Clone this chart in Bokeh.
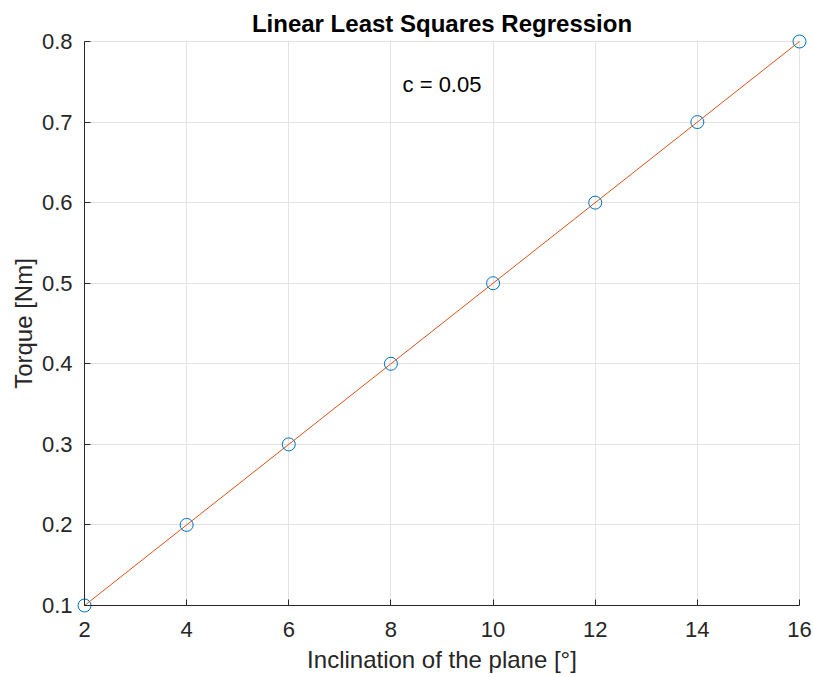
from bokeh.plotting import figure
from bokeh.models import Range1d, FixedTicker, Label
from bokeh.embed import file_html
from bokeh.resources import INLINE

inclination = [2, 4, 6, 8, 10, 12, 14, 16]
torque = [0.1, 0.2, 0.3, 0.4, 0.5, 0.6, 0.7, 0.8]
fit_x = [2, 16]
fit_y = [0.1, 0.8]
x_ticks = [2, 4, 6, 8, 10, 12, 14, 16]
y_ticks = [0.1, 0.2, 0.3, 0.4, 0.5, 0.6, 0.7, 0.8]
title_text = "Linear Least Squares Regression"
annotation = "c = 0.05"

FONT = "Liberation Sans"
DARK = "#262626"
W, H = 813, 677

# axes box (in pixels) of the reference: left, right, top, bottom
L, R, T, B = 84, 799, 41, 605
X0, X1 = 2, 16
Y0, Y1 = 0.1, 0.8
sx = (X1 - X0) / (R - L)
sy = (Y1 - Y0) / (B - T)

# the frame fills the whole canvas so edge markers and labels are never clipped
p = figure(width=W, height=H, output_backend="svg", toolbar_location=None,
           x_range=Range1d(X0 - L * sx, X1 + (W - R) * sx),
           y_range=Range1d(Y0 - (H - B) * sy, Y1 + T * sy),
           min_border=0)
p.outline_line_color = None
p.background_fill_color = "white"
p.border_fill_color = "white"

for ax in (p.xaxis[0], p.yaxis[0]):
    ax.axis_line_color = DARK
    ax.axis_line_width = 1
    ax.major_tick_line_color = DARK
    ax.major_tick_in = 6
    ax.major_tick_out = 0
    ax.minor_tick_line_color = None
    ax.major_label_text_font = FONT
    ax.major_label_text_font_size = "22px"
    ax.major_label_text_color = DARK
    ax.axis_label_text_font = FONT
    ax.axis_label_text_font_size = "24px"
    ax.axis_label_text_font_style = "normal"
    ax.axis_label_text_color = DARK

p.xaxis.fixed_location = Y0
p.yaxis.fixed_location = X0
p.xaxis.bounds = (X0, X1)
p.yaxis.bounds = (Y0, Y1)
p.xaxis.ticker = FixedTicker(ticks=x_ticks)
p.yaxis.ticker = FixedTicker(ticks=y_ticks)
p.xaxis.major_label_overrides = {t: str(t) for t in x_ticks}
p.yaxis.major_label_overrides = {t: f"{t:.1f}" for t in y_ticks}
p.xaxis.axis_label = "Inclination of the plane [°]"
p.yaxis.axis_label = "Torque [Nm]"
p.xaxis.major_label_standoff = 16
p.yaxis.major_label_standoff = 12
p.xaxis.axis_label_standoff = 6
p.yaxis.axis_label_standoff = 2

p.grid.grid_line_color = "#e3e3e3"
p.grid.grid_line_width = 1
p.xgrid.cross_bounds = (Y0, Y1)
p.ygrid.cross_bounds = (X0, X1)

p.line(fit_x, fit_y, line_color="#D95319", line_width=1)
p.scatter(inclination, torque, marker="circle", size=13, fill_color=None,
          line_color="#0072BD", line_width=1)

title = Label(x=(X0 + X1) / 2, y=Y1 + 18 * sy, text=title_text,
              text_align="center", text_baseline="middle",
              text_font=FONT, text_font_size="24px", text_font_style="bold",
              text_color="black")
p.add_layout(title)

lab = Label(x=9, y=0.747, text=annotation, text_align="center", text_baseline="middle",
            text_font=FONT, text_font_size="22px", text_color="black")
p.add_layout(lab)

open("out.html", "w").write(file_html(p, INLINE))
